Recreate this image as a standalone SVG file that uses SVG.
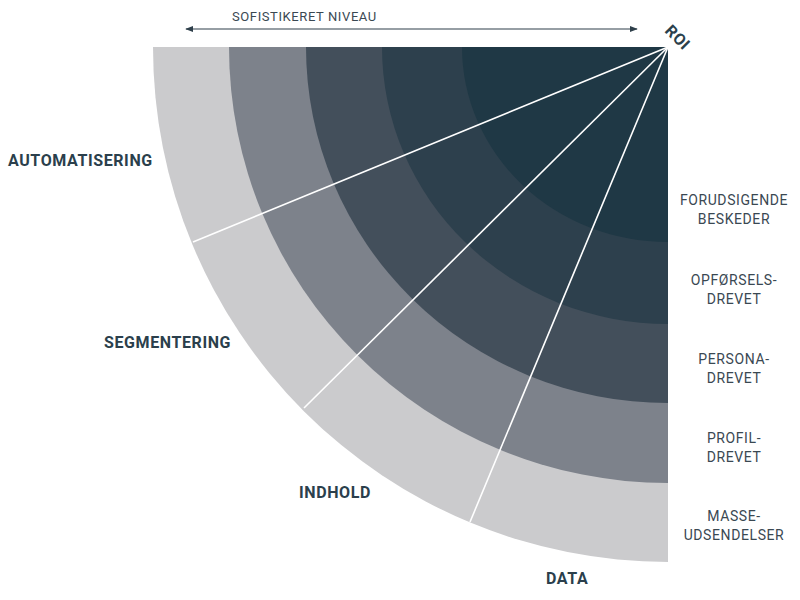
<svg xmlns="http://www.w3.org/2000/svg" width="800" height="600" viewBox="0 0 800 600">
<defs>
<style>
.lbl{font-family:Roboto,"Liberation Sans",sans-serif;font-weight:700;font-size:16px;fill:#2b3f4c;letter-spacing:0.6px}
.lvl{font-family:Roboto,"Liberation Sans",sans-serif;font-size:14px;fill:#3a4852;text-anchor:middle;letter-spacing:0.6px}
.top{font-family:Roboto,"Liberation Sans",sans-serif;font-size:13px;fill:#3a4852;letter-spacing:0.6px}
.roi{font-family:Roboto,"Liberation Sans",sans-serif;font-weight:700;font-size:16px;fill:#2b3f4c;text-anchor:middle;letter-spacing:0.5px}
.ray{stroke:#ffffff;stroke-width:1.6;fill:none}
</style>
<marker id="ah" viewBox="0 0 10 10" refX="9" refY="5" markerWidth="8" markerHeight="8" markerUnits="userSpaceOnUse" orient="auto-start-reverse">
<path d="M0,1 L10,5 L0,9 Z" fill="#2e3f4a"/>
</marker>
</defs>
<rect width="800" height="600" fill="#ffffff"/>
<g id="ring-masse"><path d="M668 47 L153 47 A515 515 0 0 0 668 562 Z" fill="#cbcbcd"/></g>
<g id="ring-profil"><path d="M668 47 L229 47 A439 436 0 0 0 668 483 Z" fill="#7d828b"/></g>
<g id="ring-persona"><path d="M668 47 L306 47 A362 356 0 0 0 668 403 Z" fill="#434f5b"/></g>
<g id="ring-opfoersel"><path d="M668 47 L382 47 A286 277 0 0 0 668 324 Z" fill="#2d404d"/></g>
<g id="ring-forudsigende"><path d="M668 47 L462 47 A206 195 0 0 0 668 242 Z" fill="#1f3845"/></g>
<g id="connectors">
<line class="ray" x1="668" y1="47" x2="193" y2="242"/>
<line class="ray" x1="668" y1="47" x2="304" y2="408"/>
<line class="ray" x1="668" y1="47" x2="470" y2="522"/>
<line x1="186" y1="29" x2="637" y2="29" stroke="#2e3f4a" stroke-width="1.2" marker-start="url(#ah)" marker-end="url(#ah)"/>
</g>
<g id="axis-label"><text class="top" x="232" y="21">SOFISTIKERET NIVEAU</text></g>
<g id="roi"><text class="roi" transform="translate(678,37) rotate(45)" x="0" y="6">ROI</text></g>
<g id="dim-automatisering"><text class="lbl" x="8" y="166">AUTOMATISERING</text></g>
<g id="dim-segmentering"><text class="lbl" x="104" y="348">SEGMENTERING</text></g>
<g id="dim-indhold"><text class="lbl" x="299" y="498">INDHOLD</text></g>
<g id="dim-data"><text class="lbl" x="546" y="584">DATA</text></g>
<g id="lvl-forudsigende"><text class="lvl" x="734" y="205">FORUDSIGENDE</text><text class="lvl" x="734" y="224">BESKEDER</text></g>
<g id="lvl-opfoersel"><text class="lvl" x="734" y="285">OPFØRSELS-</text><text class="lvl" x="734" y="304">DREVET</text></g>
<g id="lvl-persona"><text class="lvl" x="734" y="364">PERSONA-</text><text class="lvl" x="734" y="383">DREVET</text></g>
<g id="lvl-profil"><text class="lvl" x="734" y="443">PROFIL-</text><text class="lvl" x="734" y="462">DREVET</text></g>
<g id="lvl-masse"><text class="lvl" x="734" y="521">MASSE-</text><text class="lvl" x="734" y="540">UDSENDELSER</text></g>
</svg>
